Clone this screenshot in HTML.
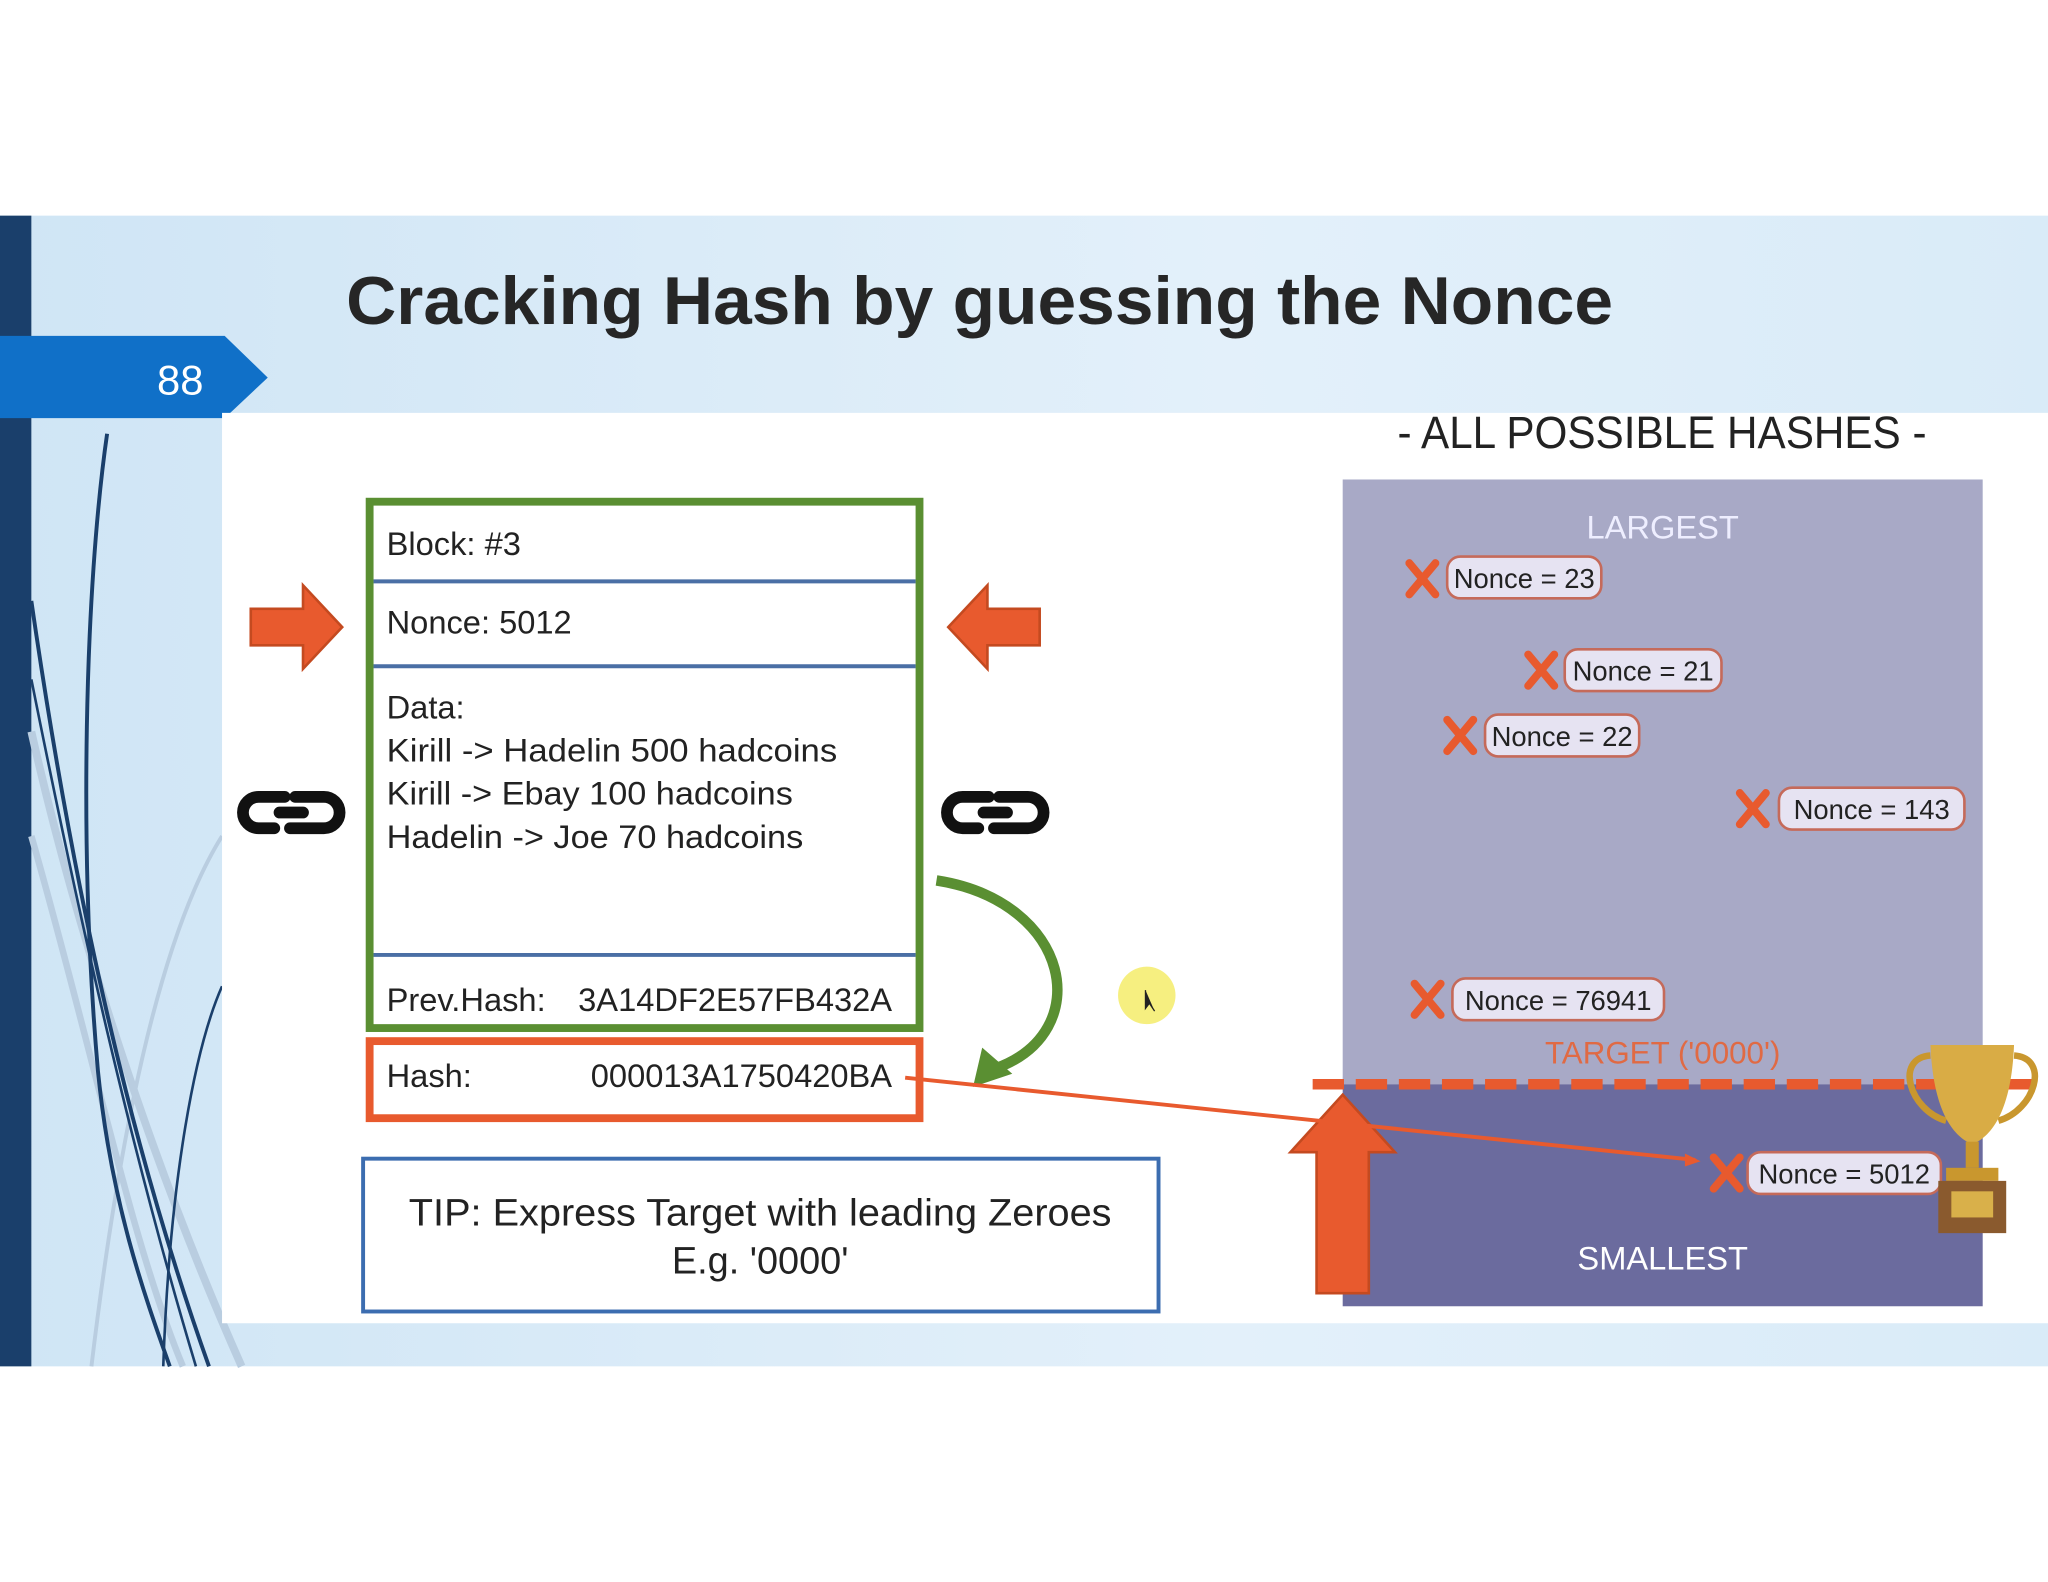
<!DOCTYPE html>
<html><head><meta charset="utf-8"><style>
html,body{margin:0;padding:0;background:#fff;width:2048px;height:1582px;overflow:hidden}
svg{display:block}
text{font-family:"Liberation Sans",sans-serif}
</style></head><body>
<svg width="2048" height="1582" viewBox="0 0 1568 1211" xmlns="http://www.w3.org/2000/svg">
<defs>
<linearGradient id="bg" x1="0" y1="0" x2="1" y2="0">
<stop offset="0" stop-color="#cfe5f5"/><stop offset="0.6" stop-color="#e3f0fa"/><stop offset="1" stop-color="#d9ebf8"/>
</linearGradient>
</defs>
<rect x="0" y="0" width="1568" height="1211" fill="#fff"/>
<rect x="0" y="165" width="1568" height="881" fill="url(#bg)"/>
<rect x="0" y="165" width="24" height="881" fill="#1a3f6b"/>
<g fill="none">
<path d="M24 560 C60 720 120 900 185 1046" stroke="#b9cde0" stroke-width="6"/>
<path d="M24 640 C70 800 100 950 140 1046" stroke="#b9cde0" stroke-width="5"/>
<path d="M170 640 C120 720 90 880 70 1046" stroke="#b9cde0" stroke-width="3"/>
<path d="M82 332 C65 450 60 650 75 820 C85 920 110 990 130 1046" stroke="#1a3f6b" stroke-width="3"/>
<path d="M24 460 C50 640 90 850 160 1046" stroke="#1a3f6b" stroke-width="3"/>
<path d="M24 520 C60 700 100 880 150 1046" stroke="#1a3f6b" stroke-width="2"/>
<path d="M170 755 C150 800 130 900 125 1046" stroke="#1a3f6b" stroke-width="2"/>
</g>
<path d="M0 257 H172 L205 289 L172 320 H0 Z" fill="#1070c8"/>
<text x="138" y="302" font-size="32" fill="#fff" text-anchor="middle">88</text>
<text x="265" y="248" font-size="52" font-weight="bold" fill="#262626" textLength="970" lengthAdjust="spacingAndGlyphs">Cracking Hash by guessing the Nonce</text>
<rect x="170" y="316" width="1398" height="697" fill="#fff"/>
<rect x="283" y="384" width="421" height="403" fill="#fff" stroke="#5a8f32" stroke-width="6"/>
<g stroke="#4a6fa5" stroke-width="3"><line x1="286" y1="445" x2="701" y2="445"/><line x1="286" y1="510" x2="701" y2="510"/><line x1="286" y1="731" x2="701" y2="731"/></g>
<rect x="283" y="797" width="421" height="59" fill="#fff" stroke="#e85a2e" stroke-width="6"/>
<g font-size="25" fill="#222">
<text x="296" y="425">Block: #3</text>
<text x="296" y="485">Nonce: 5012</text>
<text x="296" y="550">Data:</text>
<text x="296" y="583" textLength="345" lengthAdjust="spacingAndGlyphs">Kirill -&gt; Hadelin 500 hadcoins</text>
<text x="296" y="616" textLength="311" lengthAdjust="spacingAndGlyphs">Kirill -&gt; Ebay 100 hadcoins</text>
<text x="296" y="649" textLength="319" lengthAdjust="spacingAndGlyphs">Hadelin -&gt; Joe 70 hadcoins</text>
<text x="296" y="774">Prev.Hash:</text>
<text x="683" y="774" text-anchor="end">3A14DF2E57FB432A</text>
<text x="296" y="832">Hash:</text>
<text x="683" y="832" text-anchor="end">000013A1750420BA</text>
</g>
<path d="M192 466 H232 V448 L262 480 L232 512 V494 H192 Z" fill="#e85a2e" stroke="#c44a20" stroke-width="2"/>
<path d="M796 466 H756 V448 L726 480 L756 512 V494 H796 Z" fill="#e85a2e" stroke="#c44a20" stroke-width="2"/>
<g fill="none" stroke="#111" stroke-width="9" stroke-linecap="round">
<path d="M218 610 H198 A12 12 0 0 0 198 634 H210 M226 610 H248 A12 12 0 0 1 248 634 H222 M214 622 H232"/>
<path d="M757 610 H737 A12 12 0 0 0 737 634 H749 M765 610 H787 A12 12 0 0 1 787 634 H761 M753 622 H771"/>
</g>
<path d="M717 674 C820 690 840 790 762 818" fill="none" stroke="#5a8f32" stroke-width="8"/>
<path d="M745 832 L752 802 L775 822 Z" fill="#5a8f32"/>
<circle cx="878" cy="762" r="22" fill="#f5ec6a" opacity="0.85"/>
<path d="M877 758 L877 772 L880 768 L884 774" fill="#222" stroke="#222" stroke-width="1"/>
<rect x="278" y="887" width="609" height="117" fill="#fff" stroke="#3c6db0" stroke-width="3"/>
<text x="582" y="938" font-size="29" fill="#222" text-anchor="middle" textLength="538" lengthAdjust="spacingAndGlyphs">TIP: Express Target with leading Zeroes</text>
<text x="582" y="975" font-size="29" fill="#222" text-anchor="middle">E.g. '0000'</text>
<text x="1070" y="343" font-size="35" fill="#222" textLength="405" lengthAdjust="spacingAndGlyphs">- ALL POSSIBLE HASHES -</text>
<rect x="1028" y="367" width="490" height="463" fill="#a8a9c6"/>
<rect x="1028" y="830" width="490" height="170" fill="#6b6b9e"/>
<text x="1273" y="412" font-size="25" fill="#eef" text-anchor="middle">LARGEST</text>
<text x="1273" y="972" font-size="25" fill="#fff" text-anchor="middle">SMALLEST</text>
<text x="1273" y="814" font-size="24" fill="#e06a44" text-anchor="middle">TARGET ('0000')</text>
<g font-size="21" fill="#222">
<rect x="1108" y="426" width="118" height="32" rx="10" fill="#e6e3f2" stroke="#c56a5a" stroke-width="2"/><text x="1167" y="450" text-anchor="middle">Nonce = 23</text>
<rect x="1198" y="497" width="120" height="32" rx="10" fill="#e6e3f2" stroke="#c56a5a" stroke-width="2"/><text x="1258" y="521" text-anchor="middle">Nonce = 21</text>
<rect x="1137" y="547" width="118" height="32" rx="10" fill="#e6e3f2" stroke="#c56a5a" stroke-width="2"/><text x="1196" y="571" text-anchor="middle">Nonce = 22</text>
<rect x="1362" y="603" width="142" height="32" rx="10" fill="#e6e3f2" stroke="#c56a5a" stroke-width="2"/><text x="1433" y="627" text-anchor="middle">Nonce = 143</text>
<rect x="1112" y="749" width="162" height="32" rx="10" fill="#e6e3f2" stroke="#c56a5a" stroke-width="2"/><text x="1193" y="773" text-anchor="middle">Nonce = 76941</text>
<rect x="1338" y="882" width="148" height="32" rx="10" fill="#e6e3f2" stroke="#c56a5a" stroke-width="2"/><text x="1412" y="906" text-anchor="middle">Nonce = 5012</text>
</g>
<g stroke="#e85a2e" stroke-width="6" stroke-linecap="round">
<path d="M1079 431 L1099 455 M1099 431 L1079 455"/>
<path d="M1170 501 L1190 525 M1190 501 L1170 525"/>
<path d="M1108 551 L1128 575 M1128 551 L1108 575"/>
<path d="M1332 607 L1352 631 M1352 607 L1332 631"/>
<path d="M1083 753 L1103 777 M1103 753 L1083 777"/>
<path d="M1312 886 L1332 910 M1332 886 L1312 910"/>
</g>
<line x1="1005" y1="830" x2="1560" y2="830" stroke="#e85a2e" stroke-width="8" stroke-dasharray="24 9"/>
<path d="M1008 990 V882 H988 L1028 838 L1068 882 H1048 V990 Z" fill="#e85a2e" stroke="#c44a20" stroke-width="2"/>
<line x1="693" y1="825" x2="1298" y2="888" stroke="#e85a2e" stroke-width="3"/>
<path d="M1302 889 L1290 883 L1290 893 Z" fill="#e85a2e"/>
<g>
<path d="M1478 808 C1450 810 1462 850 1490 858 M1542 808 C1570 810 1558 850 1530 858" fill="none" stroke="#c9972e" stroke-width="5"/>
<path d="M1478 800 H1542 C1540 850 1525 870 1510 876 C1495 870 1480 850 1478 800 Z" fill="#d9ac45"/>
<rect x="1505" y="874" width="10" height="20" fill="#c9972e"/>
<rect x="1490" y="894" width="40" height="10" fill="#c9972e"/>
<rect x="1484" y="904" width="52" height="40" fill="#8a5a2e"/>
<rect x="1494" y="912" width="32" height="20" fill="#d9b04a"/>
</g>
</svg>
</body></html>
